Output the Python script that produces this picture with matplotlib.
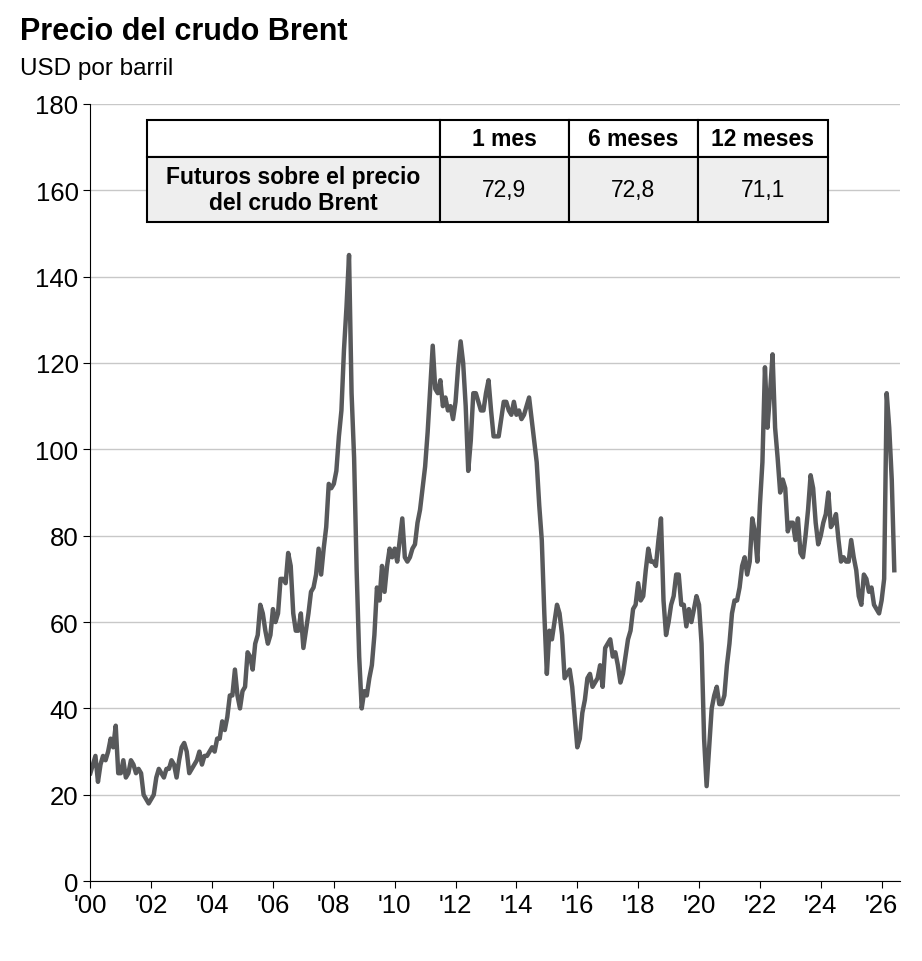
import matplotlib.pyplot as plt
import numpy as np

# Monthly Brent prices (USD per barrel), Jan 2000 onward
precios = [
    25, 27, 29, 23, 27, 29, 28, 30, 33, 31, 36, 25,
    25, 28, 24, 25, 28, 27, 25, 26, 25, 20, 19, 18,
    19, 20, 24, 26, 25, 24, 26, 26, 28, 27, 24, 28,
    31, 32, 30, 25, 26, 27, 28, 30, 27, 29, 29, 30,
    31, 30, 33, 33, 37, 35, 38, 43, 43, 49, 43, 40,
    44, 45, 53, 52, 49, 55, 57, 64, 62, 58, 55, 57,
    63, 60, 62, 70, 70, 69, 76, 73, 62, 58, 58, 62,
    54, 58, 62, 67, 68, 71, 77, 71, 77, 82, 92, 91,
    92, 95, 103, 109, 123, 133, 145, 113, 98, 72, 52, 40,
    44, 43, 47, 50, 57, 68, 65, 73, 67, 73, 77, 75,
    77, 74, 79, 84, 75, 74, 75, 77, 78, 83, 86, 91,
    96, 104, 114, 124, 114, 113, 116, 110, 112, 109, 110, 107,
    111, 119, 125, 120, 110, 95, 102, 113, 113, 111, 109, 109,
    113, 116, 109, 103, 103, 103, 107, 111, 111, 109, 108, 111,
    108, 109, 107, 108, 110, 112, 107, 102, 97, 87, 79, 62,
    48, 58, 56, 60, 64, 62, 57, 47, 48, 49, 45, 38,
    31, 33, 39, 42, 47, 48, 45, 46, 47, 50, 45, 54,
    55, 56, 52, 53, 50, 46, 48, 52, 56, 58, 63, 64,
    69, 65, 66, 72, 77, 74, 74, 73, 79, 84, 65, 57,
    60, 64, 66, 71, 71, 64, 64, 59, 63, 60, 63, 66,
    64, 55, 33, 22, 31, 40, 43, 45, 41, 41, 43, 50,
    55, 62, 65, 65, 68, 73, 75, 71, 74, 84, 81, 74,
    87, 97, 119, 105, 113, 122, 105, 98, 90, 93, 91, 81,
    83, 83, 79, 84, 76, 75, 80, 86, 94, 91, 83, 78,
    80, 83, 85, 90, 82, 83, 85, 79, 74, 75, 74, 74,
    79, 75, 72, 66, 64, 71, 70, 67, 68, 64, 63, 62,
    65, 70, 113, 105, 93, 72,
]
fechas = 2000 + np.arange(len(precios)) / 12

yticks = [0, 20, 40, 60, 80, 100, 120, 140, 160, 180]
xticks = list(range(2000, 2027, 2))
xlabels = ["'%02d" % (x % 100) for x in xticks]

col_labels = ['', '1 mes', '6 meses', '12 meses']
fila = ['Futuros sobre el precio\ndel crudo Brent', '72,9', '72,8', '71,1']

plt.rcParams['font.family'] = 'Liberation Sans'

fig = plt.figure(figsize=(9.22, 9.62), dpi=100)
ax = fig.add_axes([0.098, 0.083, 0.878, 0.808])
ax.yaxis.grid(True, color='#c8c8c8', linewidth=1)
ax.set_axisbelow(True)
ax.plot(fechas, precios, color='#58595b', linewidth=3.2)
ax.set_xlim(2000, 2026.6)
ax.set_ylim(0, 180)
ax.set_yticks(yticks)
ax.set_xticks(xticks)
ax.set_xticklabels(xlabels)
ax.tick_params(labelsize=18.5, length=5, direction='out')
ax.spines['top'].set_visible(False)
ax.spines['right'].set_visible(False)

fig.text(0.022, 0.958, 'Precio del crudo Brent', fontsize=22, fontweight='bold')
fig.text(0.022, 0.922, 'USD por barril', fontsize=17.5)

# Table of futures
tax = fig.add_axes([0.159, 0.768, 0.739, 0.106])
tax.axis('off')
tabla = tax.table(cellText=[fila], colLabels=col_labels, bbox=[0, 0, 1, 1],
                  colWidths=[293, 129, 129, 130], cellLoc='center')
tabla.auto_set_font_size(False)
for (r, c), cell in tabla.get_celld().items():
    cell.set_linewidth(1.5)
    cell.set_edgecolor('black')
    cell.set_fontsize(16.5)
    if r == 0:
        cell.set_height(0.36)
        cell.get_text().set_fontweight('bold')
    else:
        cell.set_height(0.64)
        cell.set_facecolor('#eeeeee')
        if c == 0:
            cell.get_text().set_fontweight('bold')

fig.savefig('out.png', dpi=100)
